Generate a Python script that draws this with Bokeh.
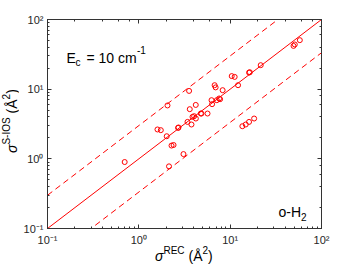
from bokeh.plotting import figure
from bokeh.layouts import row, column
from bokeh.models import Label, LogAxis, LogTicker, CustomJSTickFormatter, Range1d, Div
from bokeh.embed import file_html
from bokeh.resources import INLINE

# ---- data ----
sigma_rec = [0.70, 1.60, 1.74, 2.02, 2.06, 2.14, 2.28, 2.40, 2.69, 2.72,
             3.08, 3.41, 3.55, 3.61, 3.77, 3.87, 4.03, 4.20, 4.21, 4.77,
             4.85, 5.65, 6.25, 6.34, 6.76, 6.93, 7.14, 7.57, 7.76, 8.27,
             10.4, 11.2, 12.2, 13.6, 14.8, 16.1, 16.1, 16.4, 18.3, 21.6,
             49.4, 51.0, 57.9]
sigma_sios = [0.90, 2.64, 2.58, 2.11, 5.84, 0.78, 1.55, 1.58, 2.78, 2.82,
              1.17, 3.39, 9.44, 5.16, 3.11, 4.00, 4.09, 5.94, 3.79, 4.47,
              4.47, 4.47, 6.95, 6.09, 11.4, 10.6, 6.95, 7.35, 7.18, 9.67,
              15.4, 15.0, 11.4, 2.94, 3.11, 3.39, 17.3, 17.5, 3.79, 22.1,
              41.8, 43.8, 50.5]
axis_min, axis_max = 0.1, 100.0
line_x = [axis_min, axis_max]
unity_factor = 1.0
band_factor = 3.0

RED = "#ff0000"
AX = "#333333"
FONT = "Liberation Sans"

YLAB_W = 18
p = figure(width=346 - YLAB_W, height=248, x_axis_type="log", y_axis_type="log",
           x_range=Range1d(axis_min, axis_max), y_range=Range1d(axis_min, axis_max),
           output_backend="svg", toolbar_location=None,
           min_border_left=47 - YLAB_W, min_border_right=25, min_border_top=19, min_border_bottom=20)
p.grid.visible = False
p.outline_line_color = AX
p.background_fill_color = "white"
p.border_fill_color = "white"

sup_js = """
const sup = {"-":"\u207b","0":"\u2070","1":"\u00b9","2":"\u00b2","3":"\u00b3"};
const e = Math.round(Math.log10(tick));
return "10" + String(e).split("").map(c => sup[c]).join("");
"""
for ax in (p.xaxis[0], p.yaxis[0]):
    ax.formatter = CustomJSTickFormatter(code=sup_js)
    ax.major_label_text_font = FONT
    ax.major_label_text_font_size = "11px"
    ax.major_label_text_color = "#262626"
    ax.major_label_standoff = 5
    ax.axis_line_color = AX
    ax.major_tick_line_color = AX
    ax.minor_tick_line_color = AX
    ax.major_tick_in = 4
    ax.major_tick_out = 0
    ax.minor_tick_in = 2
    ax.minor_tick_out = 0
p.yaxis[0].major_label_standoff = 4

for loc in ("above", "right"):
    ax = LogAxis(ticker=LogTicker(), formatter=CustomJSTickFormatter(code="return ''"))
    ax.major_label_text_font_size = "0px"
    ax.axis_line_color = AX
    ax.major_tick_line_color = AX
    ax.minor_tick_line_color = AX
    ax.major_tick_in = 4
    ax.major_tick_out = 0
    ax.minor_tick_in = 2
    ax.minor_tick_out = 0
    ax.major_label_standoff = 0
    p.add_layout(ax, loc)

# reference lines
p.line(line_x, [v * unity_factor for v in line_x], line_color=RED, line_width=1)
p.line(line_x, [v * band_factor for v in line_x], line_color=RED, line_width=1, line_dash="6 4")
p.line(line_x, [v / band_factor for v in line_x], line_color=RED, line_width=1, line_dash="6 4")

# data
p.scatter(sigma_rec, sigma_sios, marker="circle", size=5, fill_color=None,
          line_color=RED, line_width=1)

# ---- in-frame texts (screen px relative to frame bottom-left) ----
FL, FB = 47, 228
def put(text, x, y, size):
    p.add_layout(Label(x=x - FL, y=FB - y, x_units="screen", y_units="screen",
                       text=text, text_font=FONT, text_font_size=f"{size}px",
                       text_color="black", text_align="left", text_baseline="alphabetic"))

put("E", 66, 57, 14)
put("c", 75, 62, 10)
put("= 10 cm", 86, 57, 14)
put("-1", 136.5, 49, 10)
put("o-H", 278, 211, 14)
put("2", 300.5, 216, 10)

# ---- axis titles as real HTML text ----
BASE = ("position:absolute; white-space:nowrap; font-family:'Liberation Sans'; "
        "font-size:14px; line-height:14px; color:#000;")
SUP = "font-size:10px; position:relative; top:-7px;"
xlab_html = (f'<div style="{BASE} left:155px; top:1px;">'
             f'<i>\u03c3</i><span style="{SUP}">REC</span> (\u00c5<span style="{SUP}">2</span>)</div>')
ylab_html = (f'<div style="{BASE} left:5px; top:153px; transform-origin:0 0; transform:rotate(-90deg);">'
             f'<i>\u03c3</i><span style="{SUP}">S-IOS</span> (\u00c5<span style="{SUP}">2</span>)</div>')

ylab = Div(text=ylab_html, width=YLAB_W, height=248, margin=0,
           styles={"overflow": "visible", "position": "relative"})
xlab = Div(text=xlab_html, width=346, height=16, margin=0,
           styles={"overflow": "visible", "position": "relative"})

layout = column(row(ylab, p, spacing=0), xlab, spacing=0)
open("out.html", "w").write(file_html(layout, INLINE))
